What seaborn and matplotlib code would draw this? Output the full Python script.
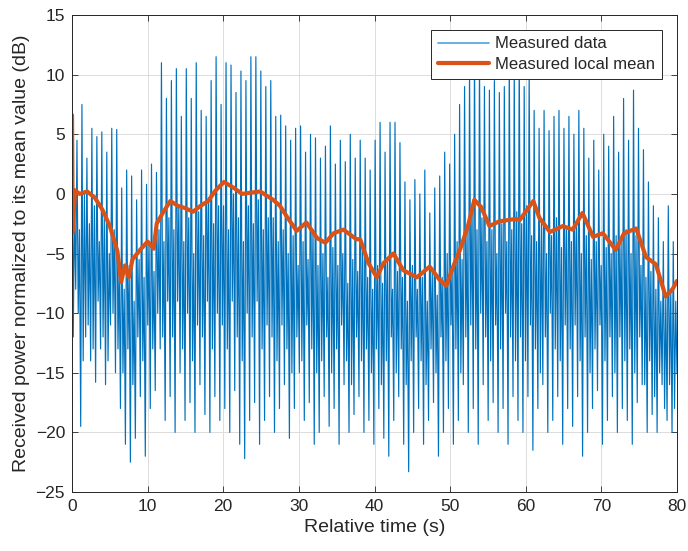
import numpy as np
import pandas as pd
import matplotlib
matplotlib.use("Agg")
import matplotlib.pyplot as plt
import seaborn as sns

# ---- data (dB) ----
# big peak of each fading cycle, cycles ~0.66 s apart
peaks_db = [
    7.0, 4.5, 7.5, 3.0, 5.5, 4.8, 5.2, 3.5, 5.5, 5.4,
    0.5, 2.0, 1.5, -0.5, 2.0, 0.8, 2.5, 1.8, 11.0, 8.0,
    9.5, 10.5, 6.5, 10.5, 8.0, 11.0, 7.0, 6.5, 9.5, 11.5,
    7.5, 11.0, 10.8, 8.5, 10.3, 9.5, 11.5, 11.5, 10.3, 9.0,
    9.5, 6.5, 6.6, 5.7, 4.5, 5.5, 5.7, 3.5, 5.0, 4.7,
    3.0, 4.0, 5.7, 2.5, 4.5, 2.7, 5.0, 3.0, 4.5, 3.0,
    2.0, 4.5, 6.0, 3.5, 6.0, 6.0, 4.3, 1.0, -0.5, 1.2,
    0.0, 2.0, -1.6, 0.5, 1.5, 3.5, 2.5, 5.0, 7.5, 9.0,
    10.5, 12.0, 11.5, 9.0, 8.7, 9.5, 8.5, 9.0, 11.5, 10.5,
    12.0, 9.0, 10.3, 7.0, 5.5, 7.0, 5.3, 6.5, 7.0, 5.5,
    6.5, 5.0, 7.0, 5.5, 3.0, 4.5, 2.0, 5.0, 4.0, 6.5,
    3.5, 8.0, 4.5, 8.7, 5.5, 3.7, 1.0, -1.0, -2.0, -4.0,
    -1.0, -4.0,
]
# smaller dip right after the peak
sub_troughs_db = [
    -12, -10, -14, -11, -13, -9, -12, -14, -10, -13,
    -15, -13, -16, -12, -14, -11, -13, -10, -12, -9,
    -12, -9, -13, -10, -14, -11, -12, -9, -13, -10,
    -11, -13, -9, -12, -14, -10, -12, -9, -13, -11,
    -12, -14, -11, -13, -15, -12, -14, -11, -13, -15,
    -14, -12, -15, -13, -11, -14, -16, -12, -14, -13,
    -15, -13, -16, -14, -12, -15, -13, -16, -14, -12,
    -14, -16, -13, -15, -12, -14, -11, -13, -15, -12,
    -11, -13, -10, -12, -14, -11, -13, -10, -12, -14,
    -12, -14, -11, -13, -15, -12, -10, -13, -14, -11,
    -13, -11, -14, -12, -15, -13, -11, -14, -12, -15,
    -12, -14, -13, -15, -12, -16, -14, -17, -15, -18,
    -16, -18,
]
# smaller bump inside the cycle
sub_peaks_db = [
    -1, -3, 0, -2.5, -1, -4, -2, -5, -3, -6,
    -8, -6, -9, -5.5, -7, -4, -6.5, -3, -4, -2,
    -3, -1, -4, -2, -5, -1.5, -3.5, -0.5, -2.5, -1,
    -1, -3, 0, -2, -4, -1, -2.5, -0.5, -3, -2,
    -2, -4, -3, -5, -3.5, -6, -4, -5.5, -3, -6,
    -5, -7, -4.5, -6, -5, -7.5, -5.5, -6.5, -4.5, -7,
    -8, -6, -7.5, -5.5, -8, -6.5, -7, -9, -6, -8,
    -7, -9, -6.5, -8.5, -7, -5, -6.5, -4, -5.5, -3,
    -1, -3, -2, -4, -3, -5, -2.5, -4, -3, -1.5,
    -2.5, -1, -3.5, -4, -2.5, -5, -3.5, -2, -4.5, -3,
    -4, -2.5, -5, -3.5, -5.5, -4, -6, -4.5, -5, -3.5,
    -4, -3, -5, -3.5, -6, -7, -6.5, -8, -9, -8.5,
    -8, -9,
]
# deep fade ending each cycle
troughs_db = [
    -8.0, -19.5, -12.0, -14.0, -15.8, -13.0, -16.0, -11.0, -15.0, -18.0,
    -21.0, -22.5, -20.5, -17.0, -22.0, -18.0, -16.5, -13.0, -19.0, -17.0,
    -20.0, -15.0, -19.0, -17.5, -20.0, -16.0, -18.5, -20.0, -17.0, -19.0,
    -18.0, -20.0, -16.5, -21.0, -22.2, -19.0, -17.5, -21.0, -19.0, -17.0,
    -20.0, -18.0, -16.0, -20.5, -18.0, -15.0, -19.0, -17.5, -21.0, -20.0,
    -17.0, -19.5, -18.0, -21.0, -16.0, -20.0, -18.5, -17.0, -20.0, -19.0,
    -21.0, -18.0, -20.5, -22.0, -19.0, -17.0, -21.0, -23.3, -20.0, -18.0,
    -21.0, -19.0, -17.5, -22.0, -20.0, -18.0, -21.0, -19.0, -16.0, -20.0,
    -18.0, -21.0, -16.0, -19.0, -17.5, -20.0, -18.0, -21.0, -17.0, -19.0,
    -20.0, -17.0, -21.5, -18.0, -16.0, -20.0, -19.0, -17.0, -21.0, -18.0,
    -19.5, -17.0, -22.0, -20.0, -18.0, -16.5, -21.0, -19.0, -17.0, -20.0,
    -18.0, -19.0, -21.0, -17.5, -16.0, -20.0, -18.5, -20.0, -16.0, -19.0,
    -20.0, -15.0,
]

# local mean (orange curve)
mean_t = [0, 0.1, 0.4, 1, 2, 3, 4, 5, 6, 6.5,
          7, 7.5, 8, 9, 10, 10.8, 11.2, 12, 13, 14,
          15, 16, 17, 18, 19, 20.1, 21.4, 22.5, 23.6, 24.9,
          26.6, 27.5, 28.4, 29.7, 31.0, 32.4, 33.5, 34.6, 35.9, 37.6,
          38.1, 39.2, 40.3, 41.2, 42.5, 43.8, 45.6, 47.3, 48.6, 49.5,
          50.4, 51.3, 52.4, 53.2, 54.1, 55.2, 56.5, 58.7, 59.2, 61.0,
          61.8, 63.2, 64.9, 66.2, 67.5, 68.9, 70.2, 71.9, 73.0, 74.6,
          75.9, 77.2, 78.5, 79.4, 80]
mean_db = [6.6, -3.2, 0.3, 0.0, 0.2, -0.3, -1.3, -2.7, -4.8, -7.4,
           -6.0, -7.0, -5.5, -4.7, -4.0, -4.6, -2.5, -1.6, -0.6, -1.0,
           -1.2, -1.5, -1.0, -0.6, 0.3, 1.0, 0.5, 0.0, 0.1, 0.2,
           -0.5, -1.0, -1.9, -3.1, -2.4, -3.7, -4.1, -3.3, -3.0, -3.8,
           -3.8, -5.8, -7.0, -5.8, -5.0, -6.4, -7.0, -6.1, -7.2, -7.7,
           -6.1, -4.7, -2.6, -0.5, -1.1, -2.7, -2.3, -2.1, -2.2, -0.6,
           -2.0, -3.2, -2.7, -3.0, -1.6, -3.6, -3.3, -4.7, -3.3, -2.9,
           -5.3, -5.9, -8.6, -8.0, -7.3]

x_ticks = list(range(0, 81, 10))
y_ticks = list(range(-25, 16, 5))

# ---- build the measured trace: peak, dip, bump, fade, next peak ... ----
vals = np.column_stack([peaks_db, sub_troughs_db, sub_peaks_db, troughs_db]).ravel()
meas = pd.DataFrame({"t": np.linspace(0, 80, len(vals)), "db": vals})
local = pd.DataFrame({"t": mean_t, "db": mean_db})

sns.set_theme(style="white")
plt.rcParams["font.family"] = ["Liberation Sans", "DejaVu Sans"]

fig = plt.figure(figsize=(6.88, 5.51), dpi=100)
ax = fig.add_axes([72 / 688, 1 - 492 / 551, 605 / 688, 477 / 551])

sns.lineplot(data=meas, x="t", y="db", ax=ax, color="#0072BD", lw=0.85,
             estimator=None, sort=False, label="Measured data")
sns.lineplot(data=local, x="t", y="db", ax=ax, color="#D95319", lw=3.0,
             estimator=None, sort=False, label="Measured local mean")

ax.set_xlim(0, 80)
ax.set_ylim(-25, 15)
ax.set_xticks(x_ticks)
ax.set_yticks(y_ticks)
ax.grid(True, color="#DCDCDC", lw=0.7)
ax.set_axisbelow(True)
ax.tick_params(direction="in", length=4, width=0.6, colors="#262626",
               labelsize=12.5, top=True, right=True, bottom=True, left=True,
               labeltop=False, labelright=False, labelcolor="#262626", pad=5)
for s in ax.spines.values():
    s.set_color("#262626")
    s.set_linewidth(0.7)

ax.set_xlabel("Relative time (s)", fontsize=14, color="#262626", labelpad=4)
ax.set_ylabel("Received power normalized to its mean value (dB)", fontsize=14,
              color="#262626", labelpad=4)

leg = ax.legend(loc="upper right", bbox_to_anchor=(0.975, 0.969), borderaxespad=0,
                fontsize=12, frameon=True, fancybox=False, framealpha=1,
                edgecolor="#262626", handlelength=3.1, borderpad=0.4,
                labelspacing=0.35, handletextpad=0.35)
leg.get_frame().set_linewidth(0.7)
leg.get_lines()[0].set_color("#4DA3DB")
leg.get_lines()[0].set_linewidth(1.2)

fig.savefig("out.png", dpi=100)
